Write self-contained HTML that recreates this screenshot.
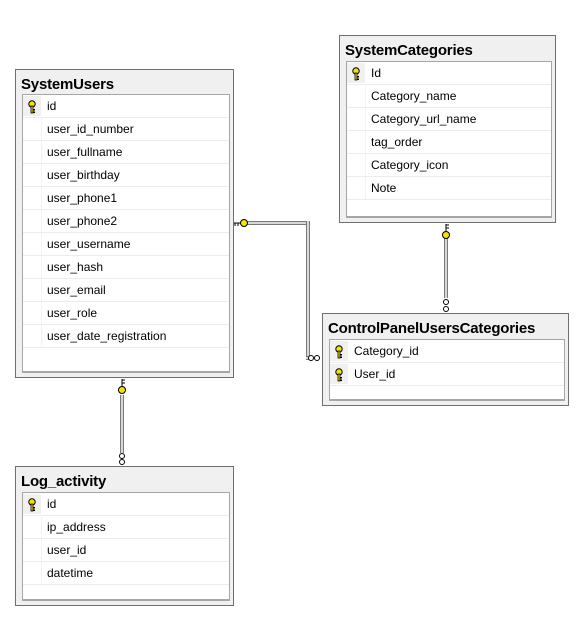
<!DOCTYPE html>
<html><head><meta charset="utf-8"><style>
body{margin:0;width:583px;height:630px;background:#fff;position:relative;overflow:hidden;font-family:"Liberation Sans",sans-serif;}
.t{position:absolute;background:#f0f0f0;border:1px solid #6f6f6f;box-sizing:border-box;}
.tt{position:absolute;left:5px;top:6px;font-weight:bold;font-size:15px;color:#000;letter-spacing:-0.2px}
.in{position:absolute;left:6px;right:3px;background:#fff;border:1px solid #a6a6a6;border-bottom:2px solid #a6a6a6;box-sizing:border-box;}
.r{height:23px;border-bottom:1px solid #ececec;box-sizing:border-box;position:relative;font-size:12px;line-height:22px;color:#000}
.r span{position:absolute;left:24px}
.r .k{position:absolute;left:0;top:1px;width:18px;height:20px;background:#f0f0f0}
.r .g{position:absolute;left:18px;top:0;width:1px;height:22px;background:#f3f3f3}
.key{position:absolute;left:5px;top:4px;width:8px;height:14px}
.h{position:absolute;height:2px;border-top:1px solid #7a7a7a;border-bottom:1px solid #7a7a7a;background:#d8d8d8}
.v{position:absolute;width:2px;border-left:1px solid #7a7a7a;border-right:1px solid #7a7a7a;background:#d8d8d8}
</style></head><body>

<svg width="0" height="0" style="position:absolute"><defs>
<symbol id="ky" viewBox="0 0 8 14"><circle cx="4" cy="4" r="3.2" fill="#f4e200" stroke="#000" stroke-width="1"/><rect x="3" y="6" width="2" height="7" fill="#f4e200" stroke="#000" stroke-width="0.8"/><rect x="5" y="9" width="2" height="1.5" fill="#000"/><rect x="5" y="11.5" width="2" height="1.5" fill="#000"/></symbol>
</defs></svg>

<!-- SystemUsers -->
<div class="t" style="left:15px;top:69px;width:219px;height:309px">
<div class="tt">SystemUsers</div>
<div class="in" style="top:24px;bottom:4px">
<div class="r"><div class="k"><svg class="key"><use href="#ky"/></svg></div><span>id</span></div>
<div class="r"><div class="g"></div><span>user_id_number</span></div>
<div class="r"><div class="g"></div><span>user_fullname</span></div>
<div class="r"><div class="g"></div><span>user_birthday</span></div>
<div class="r"><div class="g"></div><span>user_phone1</span></div>
<div class="r"><div class="g"></div><span>user_phone2</span></div>
<div class="r"><div class="g"></div><span>user_username</span></div>
<div class="r"><div class="g"></div><span>user_hash</span></div>
<div class="r"><div class="g"></div><span>user_email</span></div>
<div class="r"><div class="g"></div><span>user_role</span></div>
<div class="r"><div class="g"></div><span>user_date_registration</span></div>
</div></div>

<!-- SystemCategories -->
<div class="t" style="left:339px;top:35px;width:217px;height:188px">
<div class="tt">SystemCategories</div>
<div class="in" style="top:25px;bottom:4px">
<div class="r"><div class="k"><svg class="key"><use href="#ky"/></svg></div><span>Id</span></div>
<div class="r"><div class="g"></div><span>Category_name</span></div>
<div class="r"><div class="g"></div><span>Category_url_name</span></div>
<div class="r"><div class="g"></div><span>tag_order</span></div>
<div class="r"><div class="g"></div><span>Category_icon</span></div>
<div class="r"><div class="g"></div><span>Note</span></div>
</div></div>

<!-- ControlPanelUsersCategories -->
<div class="t" style="left:322px;top:313px;width:247px;height:93px">
<div class="tt">ControlPanelUsersCategories</div>
<div class="in" style="top:25px;bottom:4px">
<div class="r"><div class="k"><svg class="key"><use href="#ky"/></svg></div><span>Category_id</span></div>
<div class="r"><div class="k"><svg class="key"><use href="#ky"/></svg></div><span>User_id</span></div>
</div></div>

<!-- Log_activity -->
<div class="t" style="left:15px;top:466px;width:219px;height:140px">
<div class="tt">Log_activity</div>
<div class="in" style="top:25px;bottom:4px">
<div class="r"><div class="k"><svg class="key"><use href="#ky"/></svg></div><span>id</span></div>
<div class="r"><div class="g"></div><span>ip_address</span></div>
<div class="r"><div class="g"></div><span>user_id</span></div>
<div class="r"><div class="g"></div><span>datetime</span></div>
</div></div>

<!-- connectors -->
<div class="h" style="left:246px;top:221px;width:62px"></div>
<div class="v" style="left:306px;top:221px;height:137px"></div>
<div class="h" style="left:306px;top:356px;width:5px"></div>
<div class="v" style="left:444px;top:238px;height:60px"></div>
<div class="v" style="left:120px;top:395px;height:58px"></div>

<svg width="583" height="630" style="position:absolute;left:0;top:0">
<g stroke="#000" stroke-width="1" fill="#f4e200">
<circle cx="244" cy="223" r="3.5"/>
<path d="M234 223h7M235 223v3M238 223v3" fill="none"/>
<circle cx="446" cy="235" r="3.5"/>
<path d="M446 224v8M446 225h3M446 228h3" fill="none"/>
<circle cx="122" cy="390" r="3.5"/>
<path d="M122 379v8M122 380h3M122 383h3" fill="none"/>
</g>
<g stroke="#000" stroke-width="1" fill="#fff">
<circle cx="311" cy="358" r="2.5"/><circle cx="317" cy="358" r="2.5"/>
<circle cx="446" cy="302" r="2.5"/><circle cx="446" cy="309" r="2.5"/>
<circle cx="122" cy="456" r="2.5"/><circle cx="122" cy="462" r="2.5"/>
</g>
</svg>
</body></html>
